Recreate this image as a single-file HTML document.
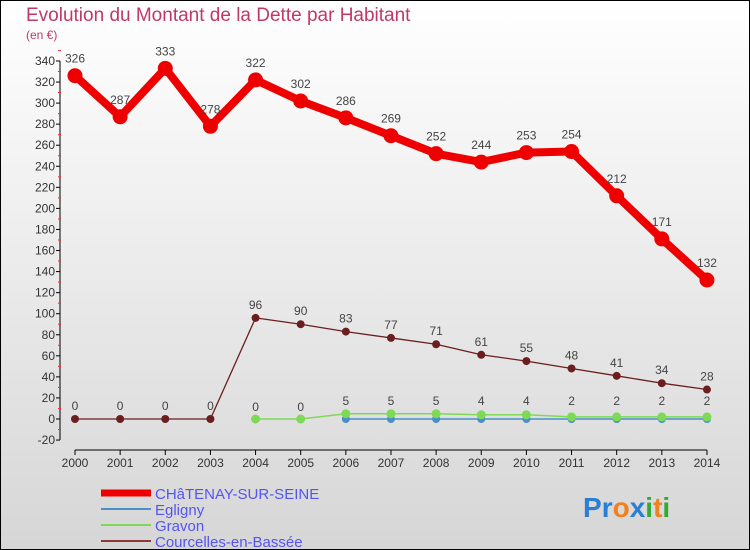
<!DOCTYPE html>
<html><head><meta charset="utf-8"><style>
body{margin:0}
#c{width:748px;height:548px;border:1px solid #000;background:linear-gradient(#fff,#d6d6d6);position:relative;font-family:"Liberation Sans",sans-serif;overflow:hidden}
</style></head><body>
<div id="c">
<svg id="s" width="748" height="548"></svg>
</div>
<script>
const years=[2000,2001,2002,2003,2004,2005,2006,2007,2008,2009,2010,2011,2012,2013,2014];
const chatenay=[326,287,333,278,322,302,286,269,252,244,253,254,212,171,132];
const egligny=[null,null,null,null,null,null,0,0,0,0,0,0,0,0,0];
const gravon=[null,null,null,null,0,0,5,5,5,4,4,2,2,2,2];
const courcelles=[0,0,0,0,96,90,83,77,71,61,55,48,41,34,28];
const yTicks=[-20,0,20,40,60,80,100,120,140,160,180,200,220,240,260,280,300,320,340];
const NS="http://www.w3.org/2000/svg",s=document.getElementById('s');
const X=i=>74+i*45.14, Y=v=>418-v*1.053;
function el(t,a,p){const e=document.createElementNS(NS,t);for(const k in a)e.setAttribute(k,a[k]);(p||s).appendChild(e);return e}
function tx(x,y,str,a){const e=el('text',Object.assign({x,y,'font-size':12,fill:'#444'},a));e.textContent=str;return e}
let t=tx(25,20,'Evolution du Montant de la Dette par Habitant',{'font-size':19,fill:'#c0386a'});

t=tx(25,38,'(en €)',{'font-size':12,fill:'#c0386a'});

let ax=el('g',{});
el('line',{x1:59,x2:59,y1:Y(340),y2:Y(-20),stroke:'#000'},ax);
yTicks.forEach(v=>{el('line',{x1:55,x2:59,y1:Y(v),y2:Y(v),stroke:'#000'},ax);
 el('line',{x1:57,x2:60,y1:Y(v+10),y2:Y(v+10),stroke:'#e33'},ax);
 tx(54,Y(v)+4,v,{'text-anchor':'end',fill:'#333'},ax);});
let xa=el('g',{});
el('line',{x1:X(0),x2:X(14),y1:449,y2:449,stroke:'#000'},xa);
years.forEach((y,i)=>{el('line',{x1:X(i),x2:X(i),y1:449,y2:454,stroke:'#000'},xa);tx(X(i),466,y,{'text-anchor':'middle',fill:'#333'},xa);});
function series(name,d,col,w,r,lab){const g=el('g',{});
 let pts=[];d.forEach((v,i)=>{if(v!==null)pts.push(X(i)+','+Y(v))});
 el('polyline',{points:pts.join(' '),fill:'none',stroke:col,'stroke-width':w,'stroke-linejoin':'round'},g);
 d.forEach((v,i)=>{if(v===null)return;const c=el('circle',{cx:X(i),cy:Y(v),r,fill:col},g);
  if(lab)tx(X(i),Y(v)-lab,v,{'text-anchor':'middle'},g);});}
series('egligny-line',egligny,'#4a90c8',1.5,4,0);
series('gravon-line',gravon,'#7ed957',1.5,4.5,0);
series('courcelles-line',courcelles,'#6b1e1e',1.3,4,9);
series('chatenay-line',chatenay,'#ee0000',8,7.5,13);
// small labels near zero for gravon
gravon.forEach((v,i)=>{if(v!==null&&i>=4)tx(X(i),Y(0)-8+(i>=6?-6:0),v,{'text-anchor':'middle'})});
const leg=[['CHâTENAY-SUR-SEINE','#ee0000',7],['Egligny','#4a90c8',2],['Gravon','#7ed957',2],['Courcelles-en-Bassée','#8b3a3a',2]];
leg.forEach((l,i)=>{const g=el('g',{});
 const y=492+i*16;el('line',{x1:100,x2:150,y1:y,y2:y,stroke:l[1],'stroke-width':l[2]},g);
 tx(154,y+6,l[0],{'font-size':15,fill:'#5555ee'},g);});
let lg=el('text',{x:582,y:516,'font-size':28,'font-weight':'bold'});
[['P','#2a7fd4'],['r','#2a7fd4'],['o','#f08020'],['x','#2a7fd4'],['i','#33aa33'],['t','#f08020'],['i','#33aa33']].forEach(c=>{const sp=el('tspan',{fill:c[1]},lg);sp.textContent=c[0];});
</script>
</body></html>
